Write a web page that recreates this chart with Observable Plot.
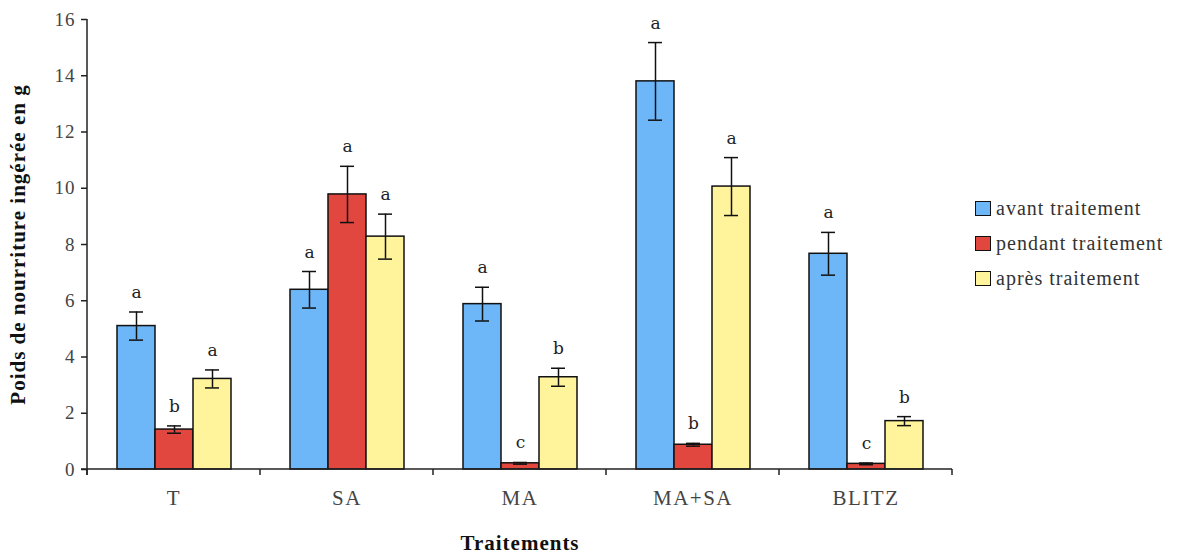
<!DOCTYPE html>
<html>
<head>
<meta charset="utf-8">
<script src="https://cdn.jsdelivr.net/npm/d3@7"></script>
<script src="https://cdn.jsdelivr.net/npm/@observablehq/plot@0.6"></script>
<style>
  body { margin: 0; background: #fff; }
  #wrap { position: relative; width: 1191px; height: 554px; }
  #legend { position: absolute; left: 975px; top: 191px; font-family: "Liberation Serif", "Times New Roman", "DejaVu Serif", serif; font-size: 20px; letter-spacing: 1px; color: #333; }
  #legend .row { display: flex; align-items: center; height: 35px; }
  #legend .sw { width: 14px; height: 13px; border: 1.5px solid #111; margin-right: 5px; }
  svg [aria-label="y-axis label"] text, svg [aria-label="fx-axis label"] text { font-weight: bold; fill: #111; font-size: 21px; letter-spacing: 1px; }
  svg [aria-label="y-axis tick label"] text { font-size: 19px; letter-spacing: 1px; fill: #444; }
  svg [aria-label="fx-axis tick label"] text { font-size: 21px; letter-spacing: 1.5px; fill: #444; }
</style>
</head>
<body>
<div id="wrap"></div>
<script>
const treatments = ["T", "SA", "MA", "MA+SA", "BLITZ"];
const periods = ["avant traitement", "pendant traitement", "après traitement"];
const colors = ["#6db6f7", "#e2473f", "#fff49b"];
const avant = [5.1, 6.39, 5.88, 13.8, 7.67];
const pendant = [1.42, 9.78, 0.22, 0.88, 0.2];
const apres = [3.22, 8.28, 3.28, 10.06, 1.72];
const errAvant = [0.5, 0.65, 0.6, 1.38, 0.76];
const errPendant = [0.13, 1.0, 0.03, 0.05, 0.03];
const errApres = [0.32, 0.8, 0.32, 1.03, 0.16];
const lettersAvant = ["a", "a", "a", "a", "a"];
const lettersPendant = ["b", "a", "c", "b", "c"];
const lettersApres = ["a", "a", "b", "a", "b"];
const yTicks = [0, 2, 4, 6, 8, 10, 12, 14, 16];

const series = [
  {values: avant, errs: errAvant, letters: lettersAvant},
  {values: pendant, errs: errPendant, letters: lettersPendant},
  {values: apres, errs: errApres, letters: lettersApres}
];
const rows = [];
treatments.forEach((t, i) => {
  series.forEach((s, j) => {
    rows.push({t, p: periods[j], v: s.values[i], lo: s.values[i] - s.errs[i], hi: s.values[i] + s.errs[i], letter: s.letters[i]});
  });
});

const serif = "Liberation Serif, Times New Roman, DejaVu Serif, serif";

const plot = Plot.plot({
  width: 1191,
  height: 554,
  marginLeft: 85,
  marginRight: 238,
  marginTop: 19,
  marginBottom: 85,
  style: {fontFamily: serif, fontSize: "19px", color: "#444", background: "#fff"},
  fx: {domain: treatments, padding: 0, label: null},
  x: {domain: periods, axis: null, paddingInner: 0, paddingOuter: 0.744},
  y: {domain: [0, 16]},
  color: {domain: periods, range: colors},
  marks: [
    Plot.barY(rows, {fx: "t", x: "p", y: "v", fill: "p", stroke: "#111", strokeWidth: 1.5}),
    Plot.ruleX(rows, {fx: "t", x: "p", y1: "lo", y2: "hi", stroke: "#111", strokeWidth: 1.5}),
    Plot.tickY(rows, {fx: "t", x: "p", y: "hi", insetLeft: 12, insetRight: 12, stroke: "#111", strokeWidth: 1.5}),
    Plot.tickY(rows, {fx: "t", x: "p", y: "lo", insetLeft: 12, insetRight: 12, stroke: "#111", strokeWidth: 1.5}),
    Plot.text(rows, {fx: "t", x: "p", y: "hi", text: "letter", lineAnchor: "bottom", dy: -14, fontFamily: "DejaVu Serif, serif", fontSize: 17, fill: "#222"}),
    Plot.axisY({ticks: yTicks, tickSize: 6, tickPadding: 6, tickFormat: d3.format("d"), fontFamily: serif, label: "Poids de nourriture ingérée en g", labelAnchor: "center", labelArrow: "none", labelOffset: 77, stroke: "#222", strokeWidth: 1.5}),
    Plot.axisFx({anchor: "bottom", tickSize: 0, tickPadding: 21, fontFamily: serif, label: "Traitements", labelAnchor: "center", labelOffset: 80})
  ]
});

// Axis lines and group-boundary ticks, placed from Plot's own scales
const svg = d3.select(plot);
const fx = plot.scale("fx");
const y = plot.scale("y");
const y0 = y.apply(0);
const yTop = y.apply(16);
const bounds = treatments.map(t => fx.apply(t));
bounds.push(fx.apply(treatments[treatments.length - 1]) + fx.bandwidth);
const g = svg.append("g").attr("stroke", "#222").attr("stroke-width", 1.5).attr("fill", "none");
g.append("line").attr("x1", bounds[0]).attr("x2", bounds[0]).attr("y1", yTop).attr("y2", y0 + 6);
g.append("line").attr("x1", bounds[0] - 6).attr("x2", bounds[bounds.length - 1]).attr("y1", y0).attr("y2", y0);
bounds.forEach(b => g.append("line").attr("x1", b).attr("x2", b).attr("y1", y0).attr("y2", y0 + 6));

document.getElementById("wrap").appendChild(plot);

// Legend
const legend = document.createElement("div");
legend.id = "legend";
periods.forEach((p, i) => {
  const row = document.createElement("div");
  row.className = "row";
  const sw = document.createElement("div");
  sw.className = "sw";
  sw.style.background = colors[i];
  const lab = document.createElement("span");
  lab.textContent = p;
  row.appendChild(sw);
  row.appendChild(lab);
  legend.appendChild(row);
});
document.getElementById("wrap").appendChild(legend);
</script>
</body>
</html>
